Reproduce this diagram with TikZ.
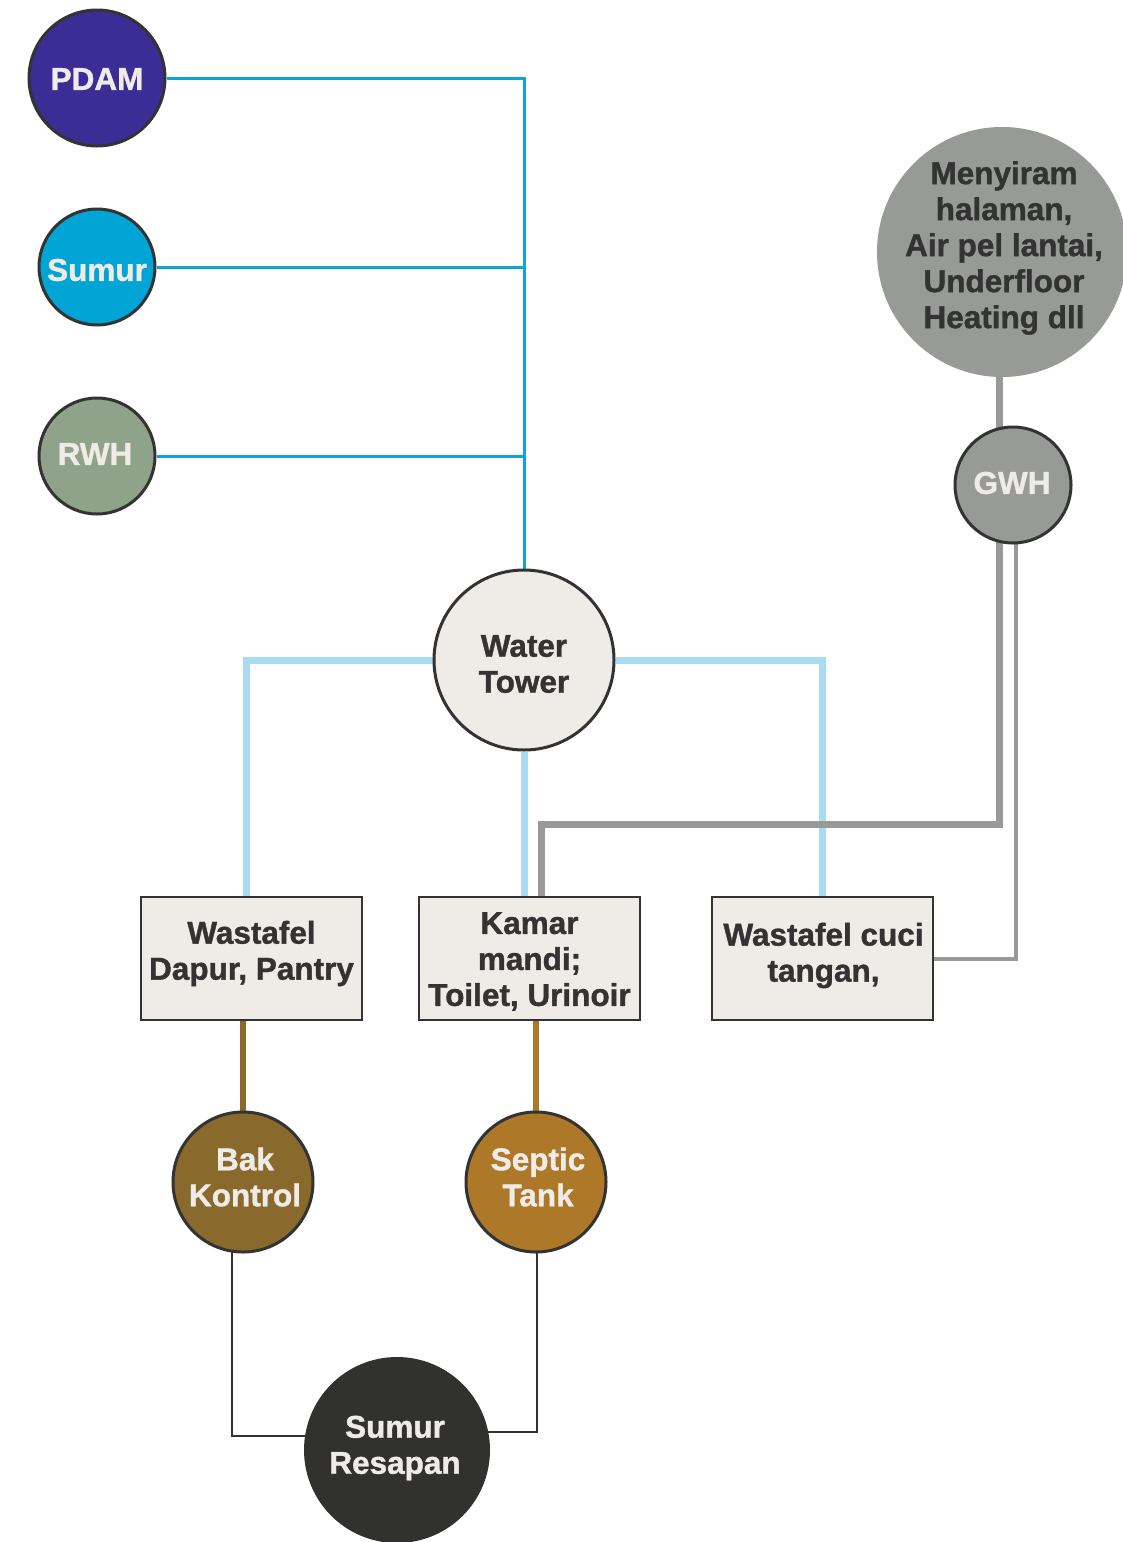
\documentclass[tikz,border=0pt]{standalone}
\usepackage{fontspec}
\setmainfont{Liberation Sans}[BoldFeatures={FakeBold=1.2}]
\usetikzlibrary{backgrounds}
\definecolor{cpurple}{HTML}{3C2C96}
\definecolor{ccyan}{HTML}{00A5D6}
\definecolor{cline}{HTML}{0EA5D4}
\definecolor{csage}{HTML}{8FA38A}
\definecolor{ccream}{HTML}{EFEBE6}
\definecolor{cdark}{HTML}{333333}
\definecolor{cgray}{HTML}{979A96}
\definecolor{clblue}{HTML}{AADBF3}
\definecolor{cbrownA}{HTML}{8A6A2C}
\definecolor{cbrownB}{HTML}{AD7828}
\definecolor{cblack}{HTML}{313130}
\tikzset{
  x=1pt,y=-1pt,
  lbl/.style={font=\fontsize{31.5}{36}\selectfont\bfseries, align=center, inner sep=0pt},
  circ/.style={circle, inner sep=0pt, draw=cdark, line width=3pt, minimum size=#1},
  boxnode/.style={rectangle, draw=cdark, line width=1.3pt, fill=ccream, minimum width=221pt, minimum height=123pt, inner sep=0pt},
  supply/.style={cline, line width=3pt},
  distline/.style={clblue, line width=7pt},
  greythick/.style={cgray, line width=7pt},
  greythin/.style={cgray, line width=4pt},
  drainA/.style={cbrownA, line width=6pt},
  drainB/.style={cbrownB, line width=6pt},
  seep/.style={cdark, line width=1.3pt},
}
\begin{document}
\begin{tikzpicture}
\useasboundingbox (0,0) rectangle (1123,1542);
\clip (0,0) rectangle (1123,1542);

% shapes
\node[circ=136pt, fill=cpurple] (pdam) at (97,78) {};
\node[circ=116pt, fill=ccyan] (sumur) at (97,267) {};
\node[circ=116pt, fill=csage] (rwh) at (97,456) {};
\node[circ=180pt, fill=ccream] (tower) at (524,660) {};
\node[circle, inner sep=0pt, minimum size=250pt, fill=cgray] (mny) at (1002,252) {};
\node[circ=116pt, fill=cgray] (gwh) at (1013,485) {};
\node[boxnode] (b1) at (251.5,958.5) {};
\node[boxnode] (b2) at (529.5,958.5) {};
\node[boxnode] (b3) at (822.5,958.5) {};
\node[circ=140pt, fill=cbrownA] (bak) at (243,1182) {};
\node[circ=140pt, fill=cbrownB] (sep) at (536,1182) {};
\node[circle, inner sep=0pt, minimum size=186pt, fill=cblack] (res) at (397,1450) {};

% texts
\node[lbl, text=ccream] (tpdam) at ([yshift=-1pt]pdam.center) {PDAM};
\node[lbl, text=ccream] (tsumur) at ([yshift=-3pt]sumur.center) {Sumur};
\node[lbl, text=ccream] (trwh) at ([xshift=-2pt,yshift=2pt]rwh.center) {RWH};
\node[lbl, text=cdark] (ttower) at ([yshift=-4pt]tower.center) {Water\\Tower};
\node[lbl, text=cdark] (tmny) at ([xshift=2pt,yshift=4pt]mny.center) {Menyiram\\halaman,\\Air pel lantai,\\Underfloor\\Heating dll};
\node[lbl, text=ccream] (tgwh) at ([xshift=-1pt,yshift=2pt]gwh.center) {GWH};
\node[lbl, text=cdark] (tb1) at ([yshift=5pt]b1.center) {Wastafel\\Dapur, Pantry};
\node[lbl, text=cdark] (tb2) at ([yshift=-3pt]b2.center) {Kamar\\mandi;\\Toilet, Urinoir};
\node[lbl, text=cdark] (tb3) at ([xshift=1pt,yshift=3pt]b3.center) {Wastafel cuci\\tangan,};
\node[lbl, text=ccream] (tbak) at ([xshift=2pt,yshift=5pt]bak.center) {Bak\\Kontrol};
\node[lbl, text=ccream] (tsep) at ([xshift=2pt,yshift=5pt]sep.center) {Septic\\Tank};
\node[lbl, text=ccream] (tres) at ([xshift=-2pt,yshift=2pt]res.center) {Sumur\\Resapan};

\coordinate (bend) at (999,824);

\begin{scope}[on background layer]
  \draw[supply] (pdam.east) -| (tower.north);
  \draw[supply] (sumur.east) -- (sumur.east -| tower.north);
  \draw[supply] (rwh.east) -- (rwh.east -| tower.north);

  \draw[distline] (tower.west) -| ([xshift=-5.5pt]b1.north);
  \draw[distline] (tower.south) -- (tower.south |- b2.north);
  \draw[distline] (tower.east) -| (b3.north);

  \draw[greythick] ([xshift=-3pt]mny.center) -- (bend) -| ([xshift=11.5pt]b2.north);
  \draw[greythin] ([xshift=3pt]gwh.center) |- (b3.east);

  \draw[drainA] (bak.north |- b1.south) -- (bak.north);
  \draw[drainB] (sep.north |- b2.south) -- (sep.north);

  \draw[seep] ([xshift=-11pt]bak.center) |- ([yshift=14pt]res.center);
  \draw[seep] ([xshift=1pt]sep.center) |- ([yshift=18pt]res.center);
\end{scope}
\end{tikzpicture}
\end{document}
